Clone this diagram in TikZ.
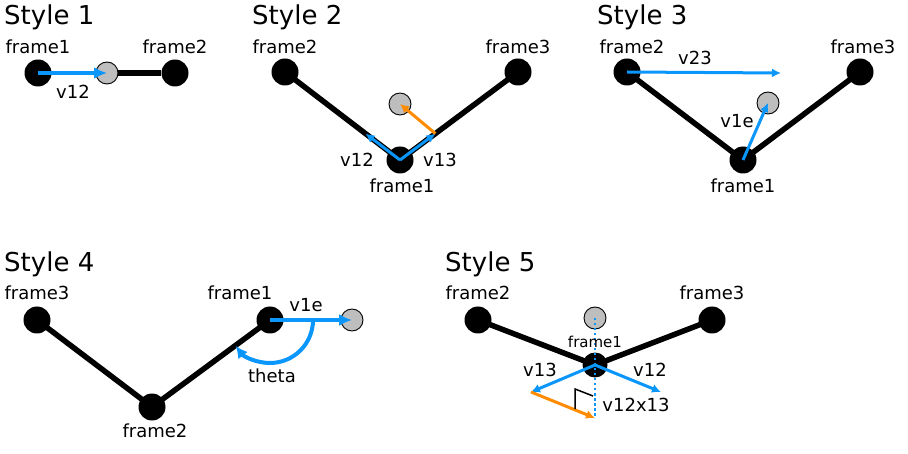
\documentclass[tikz,border=0pt]{standalone}
\usepackage{fontspec}
\setmainfont{DejaVu Sans}
\usetikzlibrary{arrows.meta,calc}
\definecolor{vblue}{RGB}{10,150,250}
\definecolor{vorange}{RGB}{255,140,0}
\definecolor{ghost}{RGB}{190,190,190}
\begin{document}
\begin{tikzpicture}[x=1pt,y=-1pt,
 frm/.style={circle,fill=black,minimum size=27pt,inner sep=0pt},
 frmsmall/.style={circle,fill=black,minimum size=25pt,inner sep=0pt},
 tgt/.style={circle,fill=ghost,draw=black,line width=0.9pt,minimum size=22pt,inner sep=0pt},
 lbl/.style={font=\fontsize{18}{20}\selectfont,inner sep=0pt,anchor=base},
 ttl/.style={font=\fontsize{26}{30}\selectfont,inner sep=0pt,anchor=base west},
 bond/.style={line width=5.5pt},
 vec/.style={vblue,line width=3pt,-{Latex[length=9pt,width=9pt]}},
 bigvec/.style={vblue,line width=4pt,-{Latex[length=13pt,width=12pt]}},
 ovec/.style={vorange,line width=3pt,-{Latex[length=9pt,width=9pt]}},
 rtmark/.style={black,line width=1.5pt},
]
\useasboundingbox (0,0) rectangle (908,454);

% ---------- Style 1
\node[ttl] (t1) at (4,25) {Style 1};
\node[frm] (s1f1) at (38,73) {};
\node[frm] (s1f2) at (175,73) {};
\node[tgt] (s1g) at (107,73) {};
\draw[bond] (s1g) -- (s1f2);
\draw[bigvec] (s1f1.center) -- (s1g.center);
\node[lbl] (s1l1) at (38,54) {frame1};
\node[lbl] (s1l2) at (175,54) {frame2};
\node[lbl] (s1v) at (73,99) {v12};

% ---------- Style 2
\node[ttl] (t2) at (252,25) {Style 2};
\node[frm] (s2f2) at (285,72) {};
\node[frm] (s2f3) at (518,72) {};
\node[frm] (s2f1) at (400,160) {};
\draw[bond] (s2f2.center) -- (s2f1.center) -- (s2f3.center);
\node[tgt] (s2g) at (400,104) {};
\coordinate (s2a) at ($(s2f1.center)!0.30!(s2f2.center)$);
\coordinate (s2b) at ($(s2f1.center)!0.30!(s2f3.center)$);
\draw[vec] (s2f1.center) -- (s2a);
\draw[vec] (s2f1.center) -- (s2b);
\draw[ovec] (s2b) -- (s2g.center);
\node[lbl] (s2l2) at (285,54) {frame2};
\node[lbl] (s2l3) at (518,54) {frame3};
\node[lbl] (s2l1) at (402,193) {frame1};
\node[lbl] (s2v12) at (357,167) {v12};
\node[lbl] (s2v13) at (440,167) {v13};

% ---------- Style 3
\node[ttl] (t3) at (597,25) {Style 3};
\node[frm] (s3f2) at (627,72) {};
\node[frm] (s3f3) at (860,72) {};
\node[frm] (s3f1) at (743,160) {};
\draw[bond] (s3f2.center) -- (s3f1.center) -- (s3f3.center);
\node[tgt] (s3g) at (768,103) {};
\coordinate (s3e) at (781,73);
\draw[vec] (s3f2.center) -- (s3e);
\draw[vec] (s3f1.center) -- (s3g.center);
\node[lbl] (s3l2) at (632,54) {frame2};
\node[lbl] (s3l3) at (863,54) {frame3};
\node[lbl] (s3l1) at (743,193) {frame1};
\node[lbl] (s3v23) at (695,65) {v23};
\node[lbl] (s3v1e) at (737,128) {v1e};

% ---------- Style 4
\node[ttl] (t4) at (4,272) {Style 4};
\node[frm] (s4f3) at (37,320) {};
\node[frm] (s4f2) at (152,407) {};
\node[frm] (s4f1) at (270,320) {};
\draw[bond] (s4f3.center) -- (s4f2.center) -- (s4f1.center);
\node[tgt] (s4g) at (352,320) {};
\draw[bigvec] (s4f1.center) -- (s4g.center);
\draw[vblue,line width=4pt,-{Latex[length=12pt,width=12pt]}]
  ($(s4f1.center)+(43,0)$) arc[start angle=0,end angle=143,radius=43];
\node[lbl] (s4l3) at (37,300) {frame3};
\node[lbl] (s4l1) at (240,300) {frame1};
\node[lbl] (s4l2) at (155,437) {frame2};
\node[lbl] (s4v) at (306,312) {v1e};
\node[lbl] (s4th) at (272,382) {theta};

% ---------- Style 5
\node[ttl] (t5) at (445,272) {Style 5};
\node[frm] (s5f2) at (478,320) {};
\node[frm] (s5f3) at (712,320) {};
\node[frmsmall] (s5f1) at (595,365) {};
\draw[bond] (s5f2.center) -- (s5f1.center) -- (s5f3.center);
\node[tgt] (s5g) at (595,318) {};
\coordinate (s5a) at (531,392);
\coordinate (s5b) at (661,392);
\coordinate (s5c) at (595,418);
\draw[vec] (s5f1.center) -- (s5a);
\draw[vec] (s5f1.center) -- (s5b);
\draw[vblue,line width=2.5pt,dash pattern=on 2.5pt off 2.5pt] (s5g.center) -- (s5c);
\draw[ovec] (s5a) -- (s5c);
\draw[rtmark] (575,409) -- (575,389) -- (593,396);
\node[lbl] (s5l2) at (478,300) {frame2};
\node[lbl] (s5l3) at (712,300) {frame3};
\node[lbl,font=\fontsize{15}{17}\selectfont] (s5l1) at (595,348) {frame1};
\node[lbl] (s5v13) at (540,377) {v13};
\node[lbl] (s5v12) at (650,377) {v12};
\node[lbl] (s5x) at (636,411) {v12x13};
\end{tikzpicture}
\end{document}
